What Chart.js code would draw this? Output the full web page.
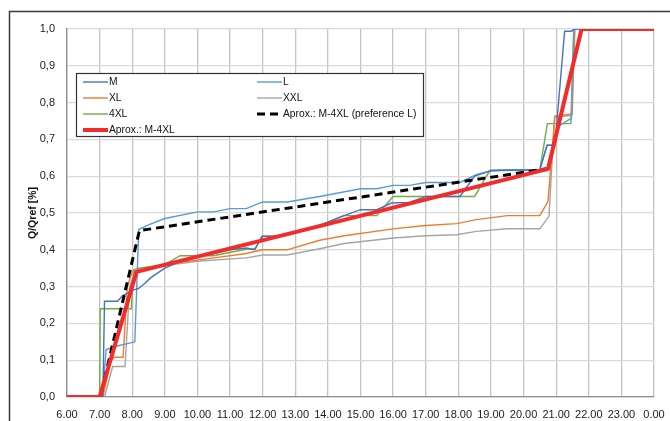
<!DOCTYPE html>
<html>
<head>
<meta charset="utf-8">
<script src="https://cdn.jsdelivr.net/npm/chart.js@4.4.0/dist/chart.umd.min.js"></script>
<style>
  body { margin: 0; background: #fff; }
  #wrap { position: relative; width: 670px; height: 421px; }
</style>
</head>
<body>
<div id="wrap"><canvas id="myChart" width="670" height="421"></canvas></div>
<script>
// hours of day (6.00 .. 0.00 = 24) and Q/Qref values
var mTime = [6, 7.1, 7.15, 7.55, 7.7, 8.0, 8.2, 8.4, 8.55, 9.0, 9.5, 10.0, 10.5, 11.0, 11.5, 11.75, 12.0, 12.45, 13.75, 14.5, 15.0, 15.5, 15.95, 16.5, 17.0, 18.05, 18.5, 19.0, 20.5, 20.72, 20.96, 21.26, 21.47, 21.54, 24];
var mVal  = [0, 0, 0.26, 0.26, 0.275, 0.29, 0.295, 0.31, 0.323, 0.35, 0.37, 0.38, 0.39, 0.40, 0.405, 0.40, 0.437, 0.437, 0.466, 0.493, 0.509, 0.509, 0.527, 0.529, 0.545, 0.545, 0.60, 0.615, 0.618, 0.684, 0.684, 0.994, 0.994, 1.0, 1.0];

var lTime = [6, 7.08, 7.2, 7.5, 7.95, 8.08, 8.2, 8.5, 9.0, 10.0, 10.5, 11.0, 11.5, 12.0, 12.75, 13.75, 15.0, 15.5, 16.0, 16.5, 17.0, 18.05, 18.55, 19.0, 19.5, 20.5, 20.72, 20.96, 21.06, 21.47, 21.54, 24];
var lVal  = [0, 0, 0.129, 0.138, 0.147, 0.15, 0.455, 0.468, 0.485, 0.503, 0.503, 0.512, 0.512, 0.53, 0.53, 0.545, 0.566, 0.566, 0.575, 0.575, 0.583, 0.583, 0.604, 0.615, 0.618, 0.618, 0.684, 0.684, 0.735, 0.758, 1.0, 1.0];

var xlTime = [6, 7.1, 7.35, 7.45, 7.72, 7.85, 8.0, 8.2, 9.0, 10.5, 11.5, 12.0, 12.75, 13.75, 14.5, 16.0, 17.0, 17.95, 18.55, 19.5, 20.5, 20.75, 20.96, 21.49, 21.57, 24];
var xlVal  = [0, 0, 0.10, 0.108, 0.108, 0.30, 0.34, 0.345, 0.36, 0.378, 0.39, 0.40, 0.40, 0.426, 0.438, 0.457, 0.466, 0.471, 0.482, 0.493, 0.493, 0.532, 0.763, 0.769, 1.0, 1.0];

var xxlTime = [6, 7.15, 7.4, 7.78, 7.92, 8.05, 8.2, 9.0, 10.0, 11.5, 12.0, 12.75, 13.75, 14.5, 16.0, 17.0, 17.95, 18.55, 19.5, 20.5, 20.78, 20.95, 21.47, 21.57, 24];
var xxlVal  = [0, 0, 0.083, 0.083, 0.30, 0.335, 0.34, 0.357, 0.369, 0.378, 0.386, 0.386, 0.403, 0.417, 0.432, 0.438, 0.441, 0.45, 0.457, 0.457, 0.491, 0.76, 0.765, 1.0, 1.0];

var x4lTime = [6, 7.0, 7.02, 7.97, 8.05, 8.2, 9.0, 9.47, 10.49, 11.52, 11.77, 11.97, 12.43, 13.76, 14.47, 15.5, 16.0, 18.5, 18.97, 20.5, 20.73, 21.45, 21.54, 24];
var x4lVal  = [0, 0, 0.24, 0.24, 0.346, 0.35, 0.36, 0.384, 0.384, 0.402, 0.402, 0.437, 0.437, 0.466, 0.493, 0.493, 0.545, 0.545, 0.616, 0.618, 0.743, 0.743, 1.0, 1.0];

var prefTime = [6, 7.02, 8.22, 20.7];
var prefVal  = [0, 0, 0.452, 0.62];

var aproxTime = [6, 7.0, 8.13, 20.75, 21.78, 24];
var aproxVal  = [0, 0, 0.34, 0.62, 1.0, 1.0];

function pts(t, v) {
    var out = [];
    for (var i = 0; i < t.length; i++) {
        out.push({x: t[i], y: v[i]});
    }
    return out;
}

function thin(label, color, t, v) {
    return {
        label: label,
        data: pts(t, v),
        borderColor: color,
        backgroundColor: color,
        borderWidth: 1.4,
        pointRadius: 0,
        tension: 0,
        order: 5
    };
}

var FONT = '"Liberation Sans", Arial, sans-serif';

// frame round the whole figure
var framePlugin = {
    id: 'frame',
    beforeDraw: function(chart) {
        var ctx = chart.ctx;
        ctx.save();
        ctx.strokeStyle = '#3a3a3a';
        ctx.lineWidth = 1.5;
        ctx.strokeRect(9.5, 11.5, 700, 450);
        ctx.restore();
    }
};

// two column legend box inside the plot
var legendPlugin = {
    id: 'boxLegend',
    afterDraw: function(chart) {
        var ctx = chart.ctx;
        var x0 = 76.5, y0 = 73.5, w = 347, h = 63;
        ctx.save();
        ctx.fillStyle = '#fff';
        ctx.fillRect(x0, y0, w, h);
        ctx.strokeStyle = '#333';
        ctx.lineWidth = 1.2;
        ctx.strokeRect(x0, y0, w, h);
        ctx.font = '10.3px ' + FONT;
        ctx.textBaseline = 'middle';
        ctx.textAlign = 'left';
        var colX = [83, 257];
        chart.data.datasets.forEach(function(ds, i) {
            var cx = colX[i % 2];
            var cy = 82 + Math.floor(i / 2) * 16;
            ctx.beginPath();
            ctx.strokeStyle = ds.borderColor;
            ctx.lineWidth = ds.borderWidth;
            ctx.setLineDash(ds.borderDash || []);
            ctx.moveTo(cx, cy);
            ctx.lineTo(cx + 25, cy);
            ctx.stroke();
            ctx.setLineDash([]);
            ctx.fillStyle = '#111';
            ctx.fillText(ds.label, cx + 26, cy + 0.5);
        });
        ctx.restore();
    }
};

var ctx = document.getElementById("myChart").getContext("2d");
var chart = new Chart(ctx, {
    type: 'line',
    data: {
        datasets: [
            thin('M', '#4472C4', mTime, mVal),
            thin('L', '#5B9BD5', lTime, lVal),
            thin('XL', '#ED7D31', xlTime, xlVal),
            thin('XXL', '#A5A5A5', xxlTime, xxlVal),
            thin('4XL', '#70AD47', x4lTime, x4lVal),
            {
                label: 'Aprox.: M-4XL (preference L)',
                data: pts(prefTime, prefVal),
                borderColor: '#000',
                borderWidth: 3,
                borderDash: [8, 5],
                pointRadius: 0,
                order: 1
            },
            {
                label: 'Aprox.: M-4XL',
                data: pts(aproxTime, aproxVal),
                borderColor: '#F52A2A',
                borderWidth: 4,
                pointRadius: 0,
                order: 0
            }
        ]
    },
    options: {
        responsive: false,
        animation: false,
        layout: { padding: { left: 0, top: 29, right: 16, bottom: 0 } },
        plugins: {
            legend: { display: false },
            tooltip: { enabled: false }
        },
        scales: {
            x: {
                type: 'linear',
                min: 6,
                max: 24,
                afterFit: function(s) {
                    s.height = 24;
                    s.paddingRight = 0;
                    s.paddingLeft = 0;
                },
                ticks: {
                    stepSize: 1,
                    padding: 11,
                    autoSkip: false,
                    maxRotation: 0,
                    minRotation: 0,
                    color: '#222',
                    font: { family: FONT, size: 11 },
                    callback: function(v) { return v === 24 ? '0.00' : v.toFixed(2); }
                },
                grid: { color: '#c4c4c4', lineWidth: 1.3, drawTicks: false },
                border: { color: '#8c8c8c', width: 1.3 }
            },
            y: {
                min: 0,
                max: 1,
                afterFit: function(s) { s.width = 67; },
                title: {
                    display: true,
                    text: 'Q/Qref [%]',
                    color: '#111',
                    font: { family: FONT, size: 10.5, weight: 'bold' },
                    padding: { top: 27, bottom: 0 }
                },
                ticks: {
                    stepSize: 0.1,
                    padding: 12,
                    color: '#222',
                    font: { family: FONT, size: 11 },
                    callback: function(v) { return v.toFixed(1).replace('.', ','); }
                },
                grid: { color: '#d9d9d9', lineWidth: 1.3, drawTicks: false },
                border: { color: '#8c8c8c', width: 1.3 }
            }
        }
    },
    plugins: [framePlugin, legendPlugin]
});
</script>
</body>
</html>
